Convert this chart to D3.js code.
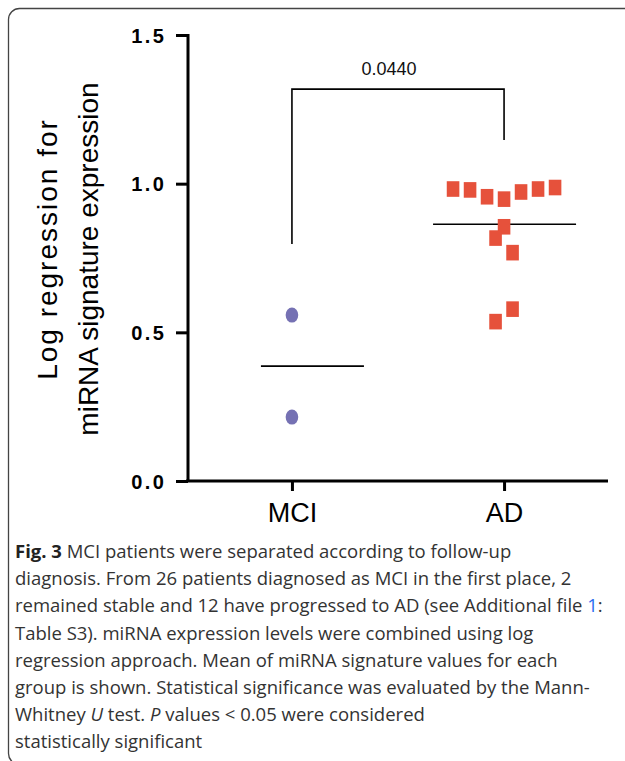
<!DOCTYPE html>
<html>
<head>
<meta charset="utf-8">
<script src="https://cdn.jsdelivr.net/npm/d3@7"></script>
<style>
  body { margin: 0; background: #fff; }
  svg { display: block; }
</style>
</head>
<body>
<div id="chart"></div>
<script>
// groups on the x axis
var groups = ["MCI", "AD"];
// MCI values (stable)
var mciValues = [0.558, 0.215];
// AD values (progressed)
var adValues = [0.982, 0.979, 0.956, 0.948, 0.972, 0.982, 0.987, 0.855, 0.817, 0.768, 0.578, 0.536];
// horizontal slot of each AD point (scatter spread)
var adSlots = [-3, -2, -1, 0, 1, 2, 3, 0, -0.5, 0.5, 0.5, -0.5];
var mciSlots = [0, 0];
var yTicks = [0, 0.5, 1.0, 1.5];
var pValue = "0.0440";
var bracketTop = 1.318, bracketLeft = 0.797, bracketRight = 1.147;

var width = 625;
var height = 761;

var svg = d3.select("#chart")
	.append("svg")
	.attr("width", width)
	.attr("height", height);

// frame
svg.append("rect")
	.attr("x", 8.5).attr("y", 8.5)
	.attr("width", 660).attr("height", 756)
	.attr("rx", 11)
	.attr("fill", "none")
	.attr("stroke", "#444")
	.attr("stroke-width", 1.3);

var y = d3.scaleLinear().domain([0, 1.5]).range([481, 35]);
var x = d3.scalePoint().domain(groups).range([188, 608]).padding(0.49);
var slotW = 17;

// y axis
var yAxis = svg.append("g")
	.attr("transform", "translate(188,0)")
	.call(d3.axisLeft(y).tickValues(yTicks).tickFormat(d3.format(".1f")).tickSize(12).tickPadding(12));
yAxis.select(".domain").attr("stroke-width", 3).attr("d", "M0," + (y(1.5) - 1) + "V" + (y(0) + 1));
yAxis.selectAll(".tick line").attr("stroke-width", 3);
yAxis.selectAll(".tick text")
	.attr("font-family", "Liberation Sans, Arial, sans-serif")
	.attr("font-weight", "bold")
	.attr("font-size", 20)
	.attr("letter-spacing", 2.5)
	.attr("dx", 2.5)
	.attr("dy", "0.36em")
	.attr("fill", "#000");

// x axis
var xAxis = svg.append("g")
	.attr("transform", "translate(0," + y(0) + ")")
	.call(d3.axisBottom(x).tickSize(10).tickPadding(12));
xAxis.select(".domain").attr("stroke-width", 3).attr("d", "M186,0H608");
xAxis.selectAll(".tick line").attr("stroke-width", 3);
xAxis.selectAll(".tick text")
	.attr("font-family", "Liberation Sans, Arial, sans-serif")
	.attr("font-size", 27)
	.attr("fill", "#000");

// y title
var tl = svg.append("text")
	.attr("font-family", "Liberation Sans, Arial, sans-serif")
	.attr("font-size", 28)
	.attr("text-anchor", "middle");
tl.append("tspan").attr("x", -249).attr("y", 57).attr("letter-spacing", 2).text("Log regression for");
tl.append("tspan").attr("x", -259).attr("y", 98).text("miRNA signature expression");
tl.attr("transform", "rotate(-90)");

// means
var meanLines = [
	{g: "MCI", v: d3.mean(mciValues), x0: -31, x1: 72},
	{g: "AD", v: d3.mean(adValues), x0: -71, x1: 72}
];
svg.selectAll(".mean")
	.data(meanLines)
	.enter().append("line")
	.attr("x1", function(d) { return x(d.g) + d.x0; })
	.attr("x2", function(d) { return x(d.g) + d.x1; })
	.attr("y1", function(d) { return y(d.v); })
	.attr("y2", function(d) { return y(d.v); })
	.attr("stroke", "#000")
	.attr("stroke-width", 1.6);

// MCI points
svg.selectAll(".mci")
	.data(mciValues)
	.enter().append("ellipse")
	.attr("cx", function(d, i) { return x("MCI") + mciSlots[i] * slotW; })
	.attr("cy", function(d) { return y(d); })
	.attr("rx", 6.3)
	.attr("ry", 7.5)
	.attr("fill", "#7571b3");

// AD points
svg.selectAll(".ad")
	.data(adValues)
	.enter().append("rect")
	.attr("x", function(d, i) { return x("AD") + adSlots[i] * slotW - 6.3; })
	.attr("y", function(d) { return y(d) - 7.8; })
	.attr("width", 12.6)
	.attr("height", 15.6)
	.attr("fill", "#e6513b");

// significance bracket
svg.append("path")
	.attr("d", "M" + x("MCI") + "," + y(bracketLeft) + "V" + y(bracketTop) + "H" + x("AD") + "V" + y(bracketRight))
	.attr("fill", "none")
	.attr("stroke", "#000")
	.attr("stroke-width", 1.6);
svg.append("text")
	.attr("x", 389)
	.attr("y", y(bracketTop) - 14)
	.attr("text-anchor", "middle")
	.attr("font-family", "Liberation Sans, Arial, sans-serif")
	.attr("font-size", 18)
	.attr("fill", "#111")
	.text(pValue);

// caption
var capLines = [
	[["Fig. 3", "b"], [" MCI patients were separated according to follow-up", ""]],
	[["diagnosis. From 26 patients diagnosed as MCI in the first place, 2", ""]],
	[["remained stable and 12 have progressed to AD (see Additional file ", ""], ["1", "link"], [":", ""]],
	[["Table S3). miRNA expression levels were combined using log", ""]],
	[["regression approach. Mean of miRNA signature values for each", ""]],
	[["group is shown. Statistical significance was evaluated by the Mann-", ""]],
	[["Whitney ", ""], ["U", "i"], [" test. ", ""], ["P", "i"], [" values < 0.05 were considered", ""]],
	[["statistically significant", ""]]
];
var cap = svg.append("text")
	.attr("font-family", "Open Sans, sans-serif")
	.attr("font-size", 18.5)
	.attr("fill", "#333");
capLines.forEach(function(line, i) {
	var t = cap.append("tspan").attr("x", 15).attr("y", 558 + i * 27.2);
	line.forEach(function(seg) {
		var sp = t.append("tspan").text(seg[0]);
		if (seg[1] === "b") sp.attr("font-weight", "bold").attr("fill", "#222");
		if (seg[1] === "i") sp.attr("font-style", "italic");
		if (seg[1] === "link") sp.attr("fill", "#2a6ef0");
	});
});
</script>
</body>
</html>
